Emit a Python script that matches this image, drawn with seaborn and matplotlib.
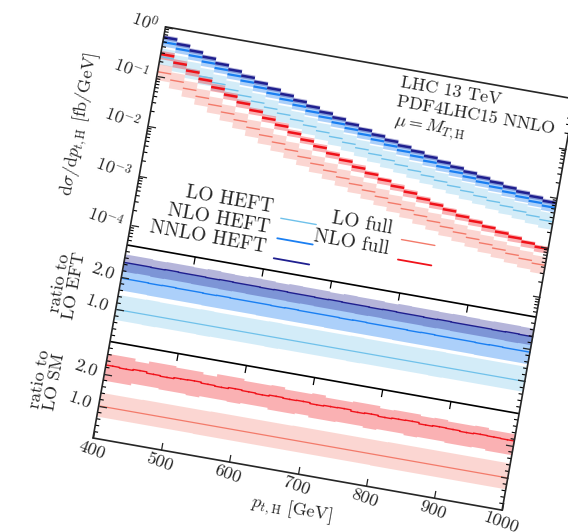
import numpy as np
import matplotlib
matplotlib.use("Agg")
import matplotlib.pyplot as plt
import seaborn as sns
from matplotlib.transforms import Affine2D, IdentityTransform, blended_transform_factory
from matplotlib.scale import LogTransform
import mpl_toolkits.axisartist.floating_axes as floating_axes
from mpl_toolkits.axisartist.grid_finder import FixedLocator, DictFormatter

# 20 GeV bins, 400 - 1000 GeV
pt_edges = np.arange(400, 1001, 20)
pt_mid = pt_edges[:-1] + 10

# dsigma/dpt [fb/GeV] central values
lo_heft = [0.251, 0.207, 0.172, 0.143, 0.119, 0.0995, 0.0834, 0.0702, 0.0592, 0.0501,
           0.0425, 0.0362, 0.0309, 0.0265, 0.0227, 0.0196, 0.0169, 0.0147, 0.01276, 0.01113,
           0.00973, 0.00854, 0.00751, 0.00663, 0.00587, 0.00522, 0.00464, 0.00415, 0.00372, 0.00334]
lo_full = [0.1247, 0.0950, 0.0727, 0.0560, 0.0433, 0.0337, 0.0264, 0.0208, 0.0164, 0.0131,
           0.01048, 0.00844, 0.00683, 0.00556, 0.00455, 0.00374, 0.00310, 0.00258, 0.00216, 0.00182,
           0.00154, 0.00131, 0.00112, 0.000964, 0.000834, 0.000726, 0.000635, 0.000559, 0.000495, 0.000441]

# ratio to LO EFT
r_lo_heft_dn = [0.69, 0.69, 0.68, 0.69, 0.69, 0.69, 0.68, 0.69, 0.69, 0.69, 0.69, 0.68, 0.69, 0.69, 0.69,
                0.69, 0.69, 0.68, 0.69, 0.69, 0.69, 0.69, 0.69, 0.68, 0.69, 0.69, 0.69, 0.69, 0.69, 0.69]
r_lo_heft_up = [1.46, 1.46, 1.47, 1.46, 1.46, 1.46, 1.47, 1.46, 1.46, 1.46, 1.46, 1.47, 1.46, 1.46, 1.46,
                1.46, 1.46, 1.47, 1.46, 1.46, 1.46, 1.46, 1.46, 1.47, 1.46, 1.46, 1.46, 1.46, 1.46, 1.46]
r_nlo_heft = [1.97, 1.97, 1.96, 1.97, 1.96, 1.96, 1.95, 1.96, 1.95, 1.95, 1.95, 1.94, 1.95, 1.94, 1.94,
              1.94, 1.93, 1.94, 1.93, 1.93, 1.93, 1.92, 1.93, 1.92, 1.92, 1.92, 1.91, 1.92, 1.91, 1.91]
r_nlo_heft_dn = [1.61, 1.61, 1.60, 1.60, 1.60, 1.60, 1.59, 1.59, 1.59, 1.59, 1.58, 1.58, 1.58, 1.58, 1.58,
                 1.57, 1.57, 1.57, 1.57, 1.57, 1.56, 1.56, 1.56, 1.56, 1.56, 1.56, 1.55, 1.55, 1.55, 1.55]
r_nlo_heft_up = [2.47, 2.47, 2.46, 2.46, 2.46, 2.45, 2.45, 2.45, 2.45, 2.44, 2.44, 2.44, 2.44, 2.43, 2.43,
                 2.43, 2.43, 2.42, 2.42, 2.42, 2.42, 2.41, 2.41, 2.41, 2.41, 2.41, 2.40, 2.40, 2.40, 2.40]
r_nnlo_heft = [2.46, 2.46, 2.45, 2.46, 2.45, 2.45, 2.44, 2.45, 2.44, 2.44, 2.43, 2.44, 2.43, 2.43, 2.42,
               2.43, 2.42, 2.42, 2.41, 2.42, 2.41, 2.41, 2.40, 2.41, 2.40, 2.40, 2.40, 2.39, 2.40, 2.39]
r_nnlo_heft_dn = [2.19, 2.20, 2.18, 2.19, 2.19, 2.18, 2.18, 2.17, 2.18, 2.17, 2.17, 2.17, 2.16, 2.17, 2.16,
                  2.16, 2.16, 2.15, 2.16, 2.15, 2.15, 2.15, 2.14, 2.15, 2.14, 2.14, 2.14, 2.14, 2.13, 2.14]
r_nnlo_heft_up = [2.72, 2.72, 2.70, 2.71, 2.71, 2.70, 2.72, 2.70, 2.69, 2.71, 2.70, 2.68, 2.70, 2.69, 2.69,
                  2.67, 2.69, 2.68, 2.68, 2.66, 2.68, 2.67, 2.67, 2.66, 2.67, 2.66, 2.65, 2.66, 2.66, 2.65]

# ratio to LO SM
r_lo_full_dn = [0.68, 0.68, 0.68, 0.68, 0.68, 0.68, 0.68, 0.67, 0.67, 0.67, 0.67, 0.67, 0.67, 0.67, 0.67,
                0.67, 0.67, 0.67, 0.67, 0.67, 0.66, 0.66, 0.66, 0.66, 0.66, 0.66, 0.66, 0.66, 0.66, 0.66]
r_lo_full_up = [1.42, 1.42, 1.42, 1.43, 1.43, 1.43, 1.43, 1.43, 1.44, 1.44, 1.44, 1.44, 1.44, 1.44, 1.45,
                1.45, 1.45, 1.45, 1.45, 1.45, 1.45, 1.46, 1.46, 1.46, 1.46, 1.46, 1.46, 1.46, 1.46, 1.46]
r_nlo_full = [2.27, 2.25, 2.28, 2.24, 2.22, 2.25, 2.26, 2.23, 2.21, 2.24, 2.22, 2.20, 2.23, 2.21, 2.22,
              2.19, 2.21, 2.22, 2.18, 2.20, 2.17, 2.19, 2.20, 2.16, 2.18, 2.17, 2.15, 2.17, 2.16, 2.15]
r_nlo_full_err = [0.025] * 30
r_nlo_full_dn = [1.80, 1.80, 1.86, 1.86, 1.83, 1.83, 1.80, 1.84, 1.84, 1.82, 1.85, 1.85, 1.80, 1.80, 1.83,
                 1.78, 1.78, 1.80, 1.80, 1.76, 1.79, 1.79, 1.75, 1.77, 1.77, 1.74, 1.74, 1.76, 1.72, 1.72]
r_nlo_full_up = [2.63, 2.63, 2.55, 2.62, 2.62, 2.58, 2.58, 2.52, 2.60, 2.60, 2.54, 2.54, 2.56, 2.50, 2.50,
                 2.53, 2.47, 2.47, 2.50, 2.50, 2.44, 2.46, 2.46, 2.42, 2.44, 2.40, 2.40, 2.42, 2.37, 2.37]

xticks = [400, 500, 600, 700, 800, 900, 1000]
main_major = [1.0, 1e-1, 1e-2, 1e-3, 1e-4]
main_labels = [r"$10^{0}$", r"$10^{-1}$", r"$10^{-2}$", r"$10^{-3}$", r"$10^{-4}$"]
ratio_major = [1.0, 2.0]
ratio_labels = ["1.0", "2.0"]

c_lo_heft = "#6fc1ea"
c_nlo_heft = "#1a7ff2"
c_nnlo_heft = "#1f1f8f"
c_lo_full = "#f37a6a"
c_nlo_full = "#f0121a"

sns.set_style("ticks")
plt.rcParams["font.family"] = "serif"
plt.rcParams["font.serif"] = ["cmr10", "DejaVu Serif"]
plt.rcParams["mathtext.fontset"] = "cm"
plt.rcParams["axes.unicode_minus"] = False

# geometry of the (rotated) frame, in pixels
ROT = -10
H_R, H_M = 98.0, 221.5
H = 2 * H_R + H_M
SX = 415.4 / 600
YMIN = 4e-5
DEC = -np.log10(YMIN)

frame = Affine2D().translate(-400, 0).scale(SX, 1).rotate_deg(ROT).translate(93, 94)
main_tr = (blended_transform_factory(IdentityTransform(), LogTransform(10))
           + Affine2D().translate(0, DEC).scale(1, H_M / DEC).translate(0, 2 * H_R))
r1_tr = Affine2D().scale(1, H_R / 3).translate(0, H_R)
r2_tr = Affine2D().scale(1, H_R / 3)

b_ticks, b_dict = [], {}
for tr, vals, labs in [(main_tr, main_major, main_labels),
                       (r1_tr, ratio_major, ratio_labels),
                       (r2_tr, ratio_major, ratio_labels)]:
    pts = np.column_stack([np.full(len(vals), 700.0), vals])
    for b, lab in zip(tr.transform(pts)[:, 1], labs):
        b = min(round(float(b), 6), H)
        b_ticks.append(b)
        b_dict[b] = lab

helper = floating_axes.GridHelperCurveLinear(
    frame, extremes=(400, 1000, 0, H),
    grid_locator1=FixedLocator(xticks), grid_locator2=FixedLocator(b_ticks),
    tick_formatter1=DictFormatter({v: str(v) for v in xticks}),
    tick_formatter2=DictFormatter(b_dict))

fig = plt.figure(figsize=(5.68, 5.32), dpi=100)
ax = fig.add_axes([0, 0, 1, 1], axes_class=floating_axes.FloatingAxes, grid_helper=helper)
ax.set_aspect("auto")
ax.set_xlim(0, 568)
ax.set_ylim(0, 532)

for side in ["left", "right", "bottom", "top"]:
    ax.axis[side].line.set_linewidth(1.2)
    ax.axis[side].major_ticks.set_ticksize(5.5)
    ax.axis[side].major_ticks.set_markeredgewidth(0.9)
    lbls = ax.axis[side].major_ticklabels
    lbls.set_fontsize(13)
    lbls.set_rotation(lbls.get_rotation() + ROT)
ax.axis["top"].major_ticks.set_visible(False)
ax.axis["left"].major_ticklabels.set_pad(6)

aux = ax.get_aux_axes(frame)
aux_m = ax.get_aux_axes(main_tr + frame)
aux_1 = ax.get_aux_axes(r1_tr + frame)
aux_2 = ax.get_aux_axes(r2_tr + frame)

# ---- main panel: one box + dash per bin
lo_heft = np.array(lo_heft)
lo_full = np.array(lo_full)
main_series = [
    (lo_heft, np.array(r_lo_heft_dn), np.array(r_lo_heft_up), np.ones(30), c_lo_heft, 0.30, 1.0),
    (lo_heft, np.array(r_nlo_heft_dn), np.array(r_nlo_heft_up), np.array(r_nlo_heft), c_nlo_heft, 0.36, 1.6),
    (lo_heft, np.array(r_nnlo_heft_dn), np.array(r_nnlo_heft_up), np.array(r_nnlo_heft), c_nnlo_heft, 0.33, 1.8),
    (lo_full, np.array(r_lo_full_dn), np.array(r_lo_full_up), np.ones(30), c_lo_full, 0.30, 1.0),
    (lo_full, np.array(r_nlo_full_dn), np.array(r_nlo_full_up), np.array(r_nlo_full), c_nlo_full, 0.33, 1.8),
]
for base, dn, up, k, col, alpha, lw in main_series:
    aux_m.bar(pt_mid, base * (up - dn), bottom=base * dn, width=20,
              color=col, alpha=alpha, linewidth=0)
for base, dn, up, k, col, alpha, lw in main_series:
    aux_m.hlines(base * k, pt_edges[:-1], pt_edges[1:], colors=col, lw=lw)


# ---- ratio panels
def step_band(axx, dn, up, col, alpha):
    axx.fill_between(pt_edges, np.append(dn, dn[-1]), np.append(up, up[-1]),
                     step="post", color=col, alpha=alpha, linewidth=0)


def step_line(axx, vals, col, lw):
    sns.lineplot(x=pt_edges, y=np.append(vals, vals[-1]), ax=axx, color=col,
                 linewidth=lw, drawstyle="steps-post", legend=False)


step_band(aux_1, r_lo_heft_dn, r_lo_heft_up, c_lo_heft, 0.30)
step_band(aux_1, r_nlo_heft_dn, r_nlo_heft_up, c_nlo_heft, 0.36)
step_band(aux_1, r_nnlo_heft_dn, r_nnlo_heft_up, c_nnlo_heft, 0.33)
step_line(aux_1, np.ones(30), c_lo_heft, 0.9)
step_line(aux_1, r_nlo_heft, c_nlo_heft, 1.0)
step_line(aux_1, r_nnlo_heft, c_nnlo_heft, 1.0)

step_band(aux_2, r_lo_full_dn, r_lo_full_up, c_lo_full, 0.30)
step_band(aux_2, r_nlo_full_dn, r_nlo_full_up, c_nlo_full, 0.33)
step_line(aux_2, np.ones(30), c_lo_full, 0.9)
step_line(aux_2, r_nlo_full, c_nlo_full, 1.0)
aux_2.errorbar(pt_mid, r_nlo_full, yerr=r_nlo_full_err, fmt="none",
               ecolor=c_nlo_full, elinewidth=0.8)

# ---- panel separators and their ticks
for b in [H_R, 2 * H_R]:
    aux.plot([400, 1000], [b, b], color="k", lw=1.2, solid_capstyle="butt")
    aux.vlines(xticks[1:-1], b - 7.6, b, colors="k", lw=0.9)

# minor ticks on left/right spines
tl = 4.0 / SX
main_minor = [m * 10.0 ** e for e in range(-5, 0) for m in range(2, 10) if m * 10.0 ** e > YMIN]
ratio_minor = [0.2, 0.4, 0.6, 0.8, 1.2, 1.4, 1.6, 1.8, 2.2, 2.4, 2.6, 2.8]
for axx, vals in [(aux_m, main_minor), (aux_1, ratio_minor), (aux_2, ratio_minor)]:
    axx.hlines(vals, 400, 400 + tl, colors="k", lw=0.8)
    axx.hlines(vals, 1000 - tl, 1000, colors="k", lw=0.8)

# ---- legend
rows = [2 * H_R + 53.0, 2 * H_R + 32.7, 2 * H_R + 12.4]
legend_left = [("LO HEFT", c_lo_heft, 1.0), ("NLO HEFT", c_nlo_heft, 1.3), ("NNLO HEFT", c_nnlo_heft, 1.3)]
legend_right = [("LO full", c_lo_full, 1.0), ("NLO full", c_nlo_full, 1.3)]
for (lab, col, lw), b in zip(legend_left, rows):
    aux.text(598, b + 3.8, lab, ha="right", va="baseline", fontsize=14,
             rotation=ROT, rotation_mode="anchor")
    aux.plot([612, 664], [b, b], color=col, lw=lw)
for (lab, col, lw), b in zip(legend_right, rows):
    aux.text(773, b + 3.8, lab, ha="right", va="baseline", fontsize=14,
             rotation=ROT, rotation_mode="anchor")
    aux.plot([789, 838], [b, b], color=col, lw=lw)

# ---- annotations and axis labels
for txt, b in [("LHC 13 TeV", 398.8), ("PDF4LHC15 NNLO", 379.8), (r"$\mu = M_{T,\mathrm{H}}$", 360.5)]:
    aux.text(748, b, txt, ha="left", va="baseline", fontsize=13,
             rotation=ROT, rotation_mode="anchor")

aux.text(303, 2 * H_R + H_M / 2, r"$\mathrm{d}\sigma/\mathrm{d}p_{t,\mathrm{H}}$ [fb/GeV]",
         ha="center", va="center", fontsize=13, rotation=90 + ROT, rotation_mode="anchor")
aux.text(324, 1.5 * H_R, "ratio to\nLO EFT", ha="center", va="center", fontsize=13,
         linespacing=0.95, rotation=90 + ROT, rotation_mode="anchor")
aux.text(320, 0.5 * H_R, "ratio to\nLO SM", ha="center", va="center", fontsize=13,
         linespacing=0.95, rotation=90 + ROT, rotation_mode="anchor")
aux.text(700, -37, r"$p_{t,\mathrm{H}}$ [GeV]", ha="center", va="center", fontsize=13,
         rotation=ROT, rotation_mode="anchor")

fig.savefig("out.png", dpi=100)
